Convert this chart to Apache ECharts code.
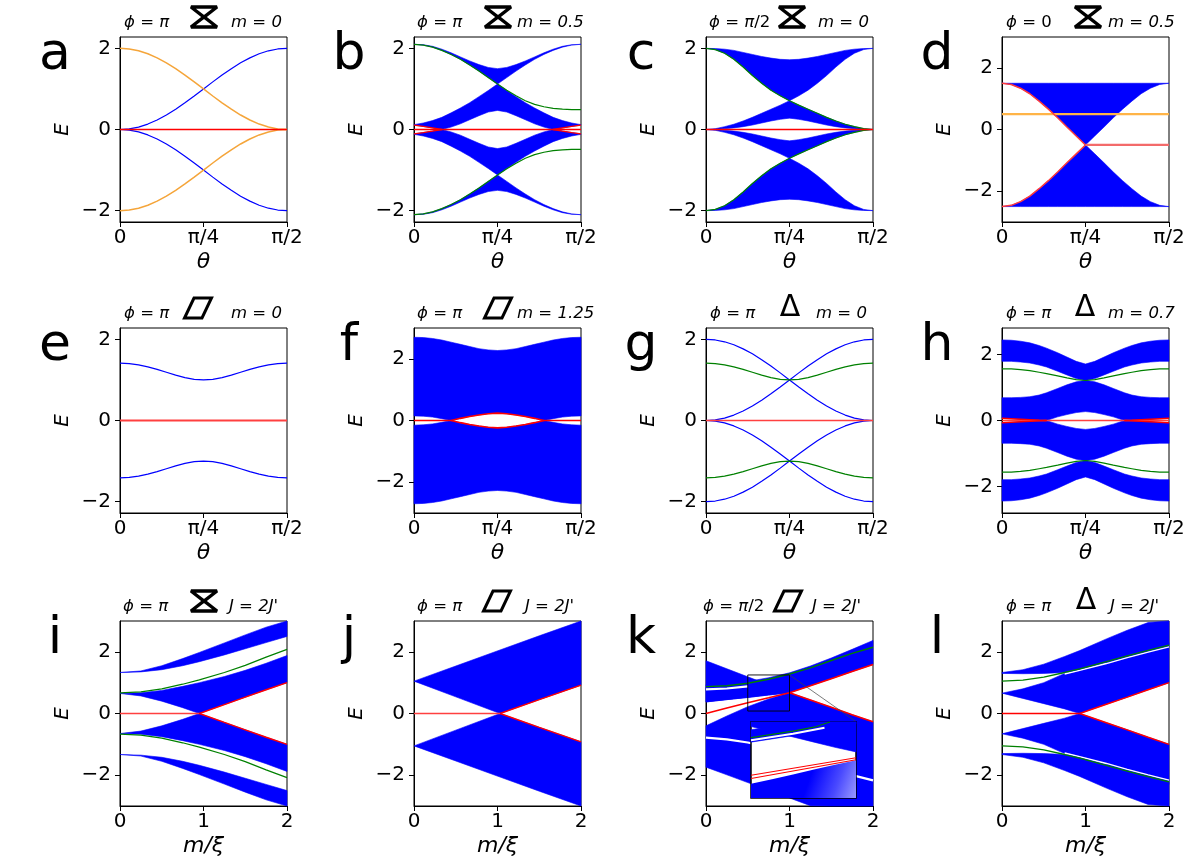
<!DOCTYPE html>
<html>
<head>
<meta charset="utf-8">
<script src="https://cdn.jsdelivr.net/npm/echarts@6/dist/echarts.min.js"></script>
<style>
html,body{margin:0;padding:0;background:#fff;}
#chart{width:1196px;height:864px;}
</style>
</head>
<body>
<div id="chart"></div>
<script>
// ---------- x sample grids ----------
const TH = [0,5,10,15,20,25,30,35,40,45,50,55,60,65,70,75,80,85,90];
const TH_ENDS = [0,90];
const TH_H = [0,5,10,15,20,24,30,35,40,45,50,55,60,66,70,75,80,85,90];
const MX = [0,0.25,0.5,0.75,1,1.25,1.5,1.75,2];
const MX_I = [0,0.25,0.5,0.75,0.95,1.25,1.5,1.75,2];
const MX_J = [0,0.5,1.03,1.5,2];
const MX_L = [0,0.25,0.5,0.75,0.93,1.25,1.5,1.75,2];
const ZERO_LINE = [0,0];

// ---------- tick labels ----------
const TH_TICKS = [0,45,90];
const TH_TICK_LABELS = ['0','π/4','π/2'];
const M_TICKS = [0,1,2];
const M_TICK_LABELS = ['0','1','2'];
const E_TICKS = [-2,0,2];
const E_TICK_LABELS = ['−2','0','2'];

// ---------- panel a ----------
const A_BLUE_UP = [0,0.015,0.06,0.134,0.234,0.357,0.5,0.658,0.826,1.0,1.174,1.342,1.5,1.643,1.766,1.866,1.94,1.985,2.0];
const A_BLUE_DN = [0,-0.015,-0.06,-0.134,-0.234,-0.357,-0.5,-0.658,-0.826,-1.0,-1.174,-1.342,-1.5,-1.643,-1.766,-1.866,-1.94,-1.985,-2.0];
const A_ORANGE_UP = [2.0,1.985,1.94,1.866,1.766,1.643,1.5,1.342,1.174,1.0,0.826,0.658,0.5,0.357,0.234,0.134,0.06,0.015,0];
const A_ORANGE_DN = [-2.0,-1.985,-1.94,-1.866,-1.766,-1.643,-1.5,-1.342,-1.174,-1.0,-0.826,-0.658,-0.5,-0.357,-0.234,-0.134,-0.06,-0.015,0];

// ---------- panel b ----------
const B_U1 = [2.10,2.09,2.05,1.98,1.89,1.79,1.69,1.60,1.53,1.50,1.53,1.60,1.69,1.79,1.89,1.98,2.05,2.09,2.10];
const B_L1 = [2.10,2.08,2.03,1.95,1.85,1.73,1.59,1.44,1.28,1.12,1.28,1.44,1.59,1.73,1.85,1.95,2.03,2.08,2.10];
const B_U2 = [0.12,0.16,0.22,0.30,0.41,0.53,0.66,0.81,0.96,1.12,0.96,0.81,0.66,0.53,0.41,0.30,0.22,0.16,0.12];
const B_L2 = [0.11,0.075,0.038,0,0.06,0.14,0.24,0.34,0.43,0.47,0.43,0.34,0.24,0.14,0.06,0,0.038,0.075,0.11];
const B_U1_N = [-2.10,-2.09,-2.05,-1.98,-1.89,-1.79,-1.69,-1.60,-1.53,-1.50,-1.53,-1.60,-1.69,-1.79,-1.89,-1.98,-2.05,-2.09,-2.10];
const B_L1_N = [-2.10,-2.08,-2.03,-1.95,-1.85,-1.73,-1.59,-1.44,-1.28,-1.12,-1.28,-1.44,-1.59,-1.73,-1.85,-1.95,-2.03,-2.08,-2.10];
const B_U2_N = [-0.12,-0.16,-0.22,-0.30,-0.41,-0.53,-0.66,-0.81,-0.96,-1.12,-0.96,-0.81,-0.66,-0.53,-0.41,-0.30,-0.22,-0.16,-0.12];
const B_L2_N = [-0.11,-0.075,-0.038,0,-0.06,-0.14,-0.24,-0.34,-0.43,-0.47,-0.43,-0.34,-0.24,-0.14,-0.06,0,-0.038,-0.075,-0.11];
const B_GREEN_UP = [2.10,2.08,2.03,1.95,1.85,1.73,1.59,1.44,1.28,1.12,0.97,0.83,0.71,0.62,0.56,0.52,0.50,0.49,0.49];
const B_GREEN_DN = [-2.10,-2.08,-2.03,-1.95,-1.85,-1.73,-1.59,-1.44,-1.28,-1.12,-0.97,-0.83,-0.71,-0.62,-0.56,-0.52,-0.50,-0.49,-0.49];
const B_RED_XL = [0,5,10,15];
const B_RED_XR = [75,80,85,90];
const B_RED_UL = [0.11,0.075,0.038,0];
const B_RED_UR = [0,0.038,0.075,0.11];
const B_RED_DL = [-0.11,-0.075,-0.038,0];
const B_RED_DR = [0,-0.038,-0.075,-0.11];

// ---------- panel c ----------
const C_U1 = [2.0,1.995,1.98,1.95,1.90,1.85,1.80,1.76,1.73,1.72,1.73,1.76,1.80,1.85,1.90,1.95,1.98,1.995,2.0];
const C_L1 = [2.0,1.97,1.88,1.73,1.54,1.33,1.14,0.97,0.83,0.71,0.83,0.97,1.14,1.33,1.54,1.73,1.88,1.97,2.0];
const C_U2 = [0,0.02,0.07,0.13,0.21,0.30,0.40,0.50,0.60,0.71,0.60,0.50,0.40,0.30,0.21,0.13,0.07,0.02,0];
const C_L2 = [0,0.005,0.02,0.04,0.07,0.11,0.16,0.21,0.25,0.28,0.25,0.21,0.16,0.11,0.07,0.04,0.02,0.005,0];
const C_U1_N = [-2.0,-1.995,-1.98,-1.95,-1.90,-1.85,-1.80,-1.76,-1.73,-1.72,-1.73,-1.76,-1.80,-1.85,-1.90,-1.95,-1.98,-1.995,-2.0];
const C_L1_N = [-2.0,-1.97,-1.88,-1.73,-1.54,-1.33,-1.14,-0.97,-0.83,-0.71,-0.83,-0.97,-1.14,-1.33,-1.54,-1.73,-1.88,-1.97,-2.0];
const C_U2_N = [0,-0.02,-0.07,-0.13,-0.21,-0.30,-0.40,-0.50,-0.60,-0.71,-0.60,-0.50,-0.40,-0.30,-0.21,-0.13,-0.07,-0.02,0];
const C_L2_N = [0,-0.005,-0.02,-0.04,-0.07,-0.11,-0.16,-0.21,-0.25,-0.28,-0.25,-0.21,-0.16,-0.11,-0.07,-0.04,-0.02,-0.005,0];
const C_GREEN_UP = [2.0,1.97,1.88,1.73,1.54,1.33,1.14,0.97,0.83,0.71,0.60,0.50,0.40,0.30,0.21,0.13,0.07,0.02,0];
const C_GREEN_DN = [-2.0,-1.97,-1.88,-1.73,-1.54,-1.33,-1.14,-0.97,-0.83,-0.71,-0.60,-0.50,-0.40,-0.30,-0.21,-0.13,-0.07,-0.02,0];

// ---------- panel d ----------
const D_UP_TOP = [1.5,1.5,1.5,1.5,1.5,1.5,1.5,1.5,1.5,1.5,1.5,1.5,1.5,1.5,1.5,1.5,1.5,1.5,1.5];
const D_UP_BOT = [1.5,1.46,1.34,1.16,0.92,0.66,0.38,0.08,-0.21,-0.5,-0.21,0.08,0.38,0.66,0.92,1.16,1.34,1.46,1.5];
const D_LO_TOP = [-2.5,-2.46,-2.34,-2.16,-1.92,-1.66,-1.38,-1.08,-0.79,-0.5,-0.79,-1.08,-1.38,-1.66,-1.92,-2.16,-2.34,-2.46,-2.5];
const D_LO_BOT = [-2.5,-2.5,-2.5,-2.5,-2.5,-2.5,-2.5,-2.5,-2.5,-2.5,-2.5,-2.5,-2.5,-2.5,-2.5,-2.5,-2.5,-2.5,-2.5];
const D_RED_X = [0,5,10,15,20,25,30,35,40,45];
const D_RED_U = [1.5,1.46,1.34,1.16,0.92,0.66,0.38,0.08,-0.21,-0.5];
const D_RED_L = [-2.5,-2.46,-2.34,-2.16,-1.92,-1.66,-1.38,-1.08,-0.79,-0.5];
const D_RED_FLAT_X = [45,90];
const D_RED_FLAT = [-0.5,-0.5];
const D_ORANGE = [0.5,0.5];

// ---------- panel e ----------
const E_BLUE_UP = [1.414,1.404,1.372,1.323,1.260,1.189,1.118,1.057,1.015,1.0,1.015,1.057,1.118,1.189,1.260,1.323,1.372,1.404,1.414];
const E_BLUE_DN = [-1.414,-1.404,-1.372,-1.323,-1.260,-1.189,-1.118,-1.057,-1.015,-1.0,-1.015,-1.057,-1.118,-1.189,-1.260,-1.323,-1.372,-1.404,-1.414];

// ---------- panel f ----------
const F_TOP = [2.70,2.69,2.66,2.61,2.54,2.47,2.40,2.33,2.29,2.27,2.29,2.33,2.40,2.47,2.54,2.61,2.66,2.69,2.70];
const F_GAP = [0.15,0.14,0.11,0.06,0,0.07,0.13,0.18,0.22,0.24,0.22,0.18,0.13,0.07,0,0.06,0.11,0.14,0.15];
const F_TOP_N = [-2.70,-2.69,-2.66,-2.61,-2.54,-2.47,-2.40,-2.33,-2.29,-2.27,-2.29,-2.33,-2.40,-2.47,-2.54,-2.61,-2.66,-2.69,-2.70];
const F_GAP_N = [-0.15,-0.14,-0.11,-0.06,0,-0.07,-0.13,-0.18,-0.22,-0.24,-0.22,-0.18,-0.13,-0.07,0,-0.06,-0.11,-0.14,-0.15];
const F_LENS_X = [20,25,30,35,40,45,50,55,60,65,70];
const F_LENS_U = [0,0.07,0.13,0.18,0.22,0.24,0.22,0.18,0.13,0.07,0];
const F_LENS_D = [0,-0.07,-0.13,-0.18,-0.22,-0.24,-0.22,-0.18,-0.13,-0.07,0];
const F_RED_XL = [0,20];
const F_RED_XR = [70,90];

// ---------- panel g ----------
const G_BLUE_1 = [0,0.015,0.06,0.134,0.234,0.357,0.5,0.658,0.826,1.0,1.174,1.342,1.5,1.643,1.766,1.866,1.94,1.985,2.0];
const G_BLUE_2 = [0,-0.015,-0.06,-0.134,-0.234,-0.357,-0.5,-0.658,-0.826,-1.0,-1.174,-1.342,-1.5,-1.643,-1.766,-1.866,-1.94,-1.985,-2.0];
const G_BLUE_3 = [2.0,1.985,1.94,1.866,1.766,1.643,1.5,1.342,1.174,1.0,0.826,0.658,0.5,0.357,0.234,0.134,0.06,0.015,0];
const G_BLUE_4 = [-2.0,-1.985,-1.94,-1.866,-1.766,-1.643,-1.5,-1.342,-1.174,-1.0,-0.826,-0.658,-0.5,-0.357,-0.234,-0.134,-0.06,-0.015,0];
const G_GREEN_UP = [1.414,1.404,1.372,1.323,1.260,1.189,1.118,1.057,1.015,1.0,1.015,1.057,1.118,1.189,1.260,1.323,1.372,1.404,1.414];
const G_GREEN_DN = [-1.414,-1.404,-1.372,-1.323,-1.260,-1.189,-1.118,-1.057,-1.015,-1.0,-1.015,-1.057,-1.118,-1.189,-1.260,-1.323,-1.372,-1.404,-1.414];

// ---------- panel h (x = TH_H) ----------
const H_T1 = [2.44,2.43,2.40,2.35,2.27,2.19,2.05,1.92,1.79,1.71,1.79,1.92,2.05,2.19,2.27,2.35,2.40,2.43,2.44];
const H_B1 = [1.79,1.79,1.77,1.74,1.68,1.62,1.49,1.38,1.27,1.21,1.27,1.38,1.49,1.62,1.68,1.74,1.77,1.79,1.79];
const H_T2 = [0.69,0.69,0.70,0.72,0.77,0.84,0.97,1.08,1.17,1.21,1.17,1.08,0.97,0.84,0.77,0.72,0.70,0.69,0.69];
const H_B2 = [0.07,0.055,0.04,0.025,0.01,0,0.11,0.18,0.24,0.27,0.24,0.18,0.11,0,0.01,0.025,0.04,0.055,0.07];
const H_T1_N = [-2.44,-2.43,-2.40,-2.35,-2.27,-2.19,-2.05,-1.92,-1.79,-1.71,-1.79,-1.92,-2.05,-2.19,-2.27,-2.35,-2.40,-2.43,-2.44];
const H_B1_N = [-1.79,-1.79,-1.77,-1.74,-1.68,-1.62,-1.49,-1.38,-1.27,-1.21,-1.27,-1.38,-1.49,-1.62,-1.68,-1.74,-1.77,-1.79,-1.79];
const H_T2_N = [-0.69,-0.69,-0.70,-0.72,-0.77,-0.84,-0.97,-1.08,-1.17,-1.21,-1.17,-1.08,-0.97,-0.84,-0.77,-0.72,-0.70,-0.69,-0.69];
const H_B2_N = [-0.07,-0.055,-0.04,-0.025,-0.01,0,-0.11,-0.18,-0.24,-0.27,-0.24,-0.18,-0.11,0,-0.01,-0.025,-0.04,-0.055,-0.07];
const H_GREEN_UP = [1.56,1.56,1.54,1.51,1.46,1.42,1.35,1.29,1.24,1.21,1.24,1.29,1.35,1.42,1.46,1.51,1.54,1.56,1.56];
const H_GREEN_DN = [-1.56,-1.56,-1.54,-1.51,-1.46,-1.42,-1.35,-1.29,-1.24,-1.21,-1.24,-1.29,-1.35,-1.42,-1.46,-1.51,-1.54,-1.56,-1.56];
const H_RED_XL = [0,5,10,15,20,24];
const H_RED_XR = [66,70,75,80,85,90];
const H_RED_UL = [0.07,0.055,0.04,0.025,0.01,0];
const H_RED_UR = [0,0.01,0.025,0.04,0.055,0.07];
const H_RED_DL = [-0.07,-0.055,-0.04,-0.025,-0.01,0];
const H_RED_DR = [0,-0.01,-0.025,-0.04,-0.055,-0.07];

// ---------- panel i (x = MX_I) ----------
const I_T1 = [1.33,1.38,1.55,1.78,1.98,2.29,2.55,2.80,3.05];
const I_B1 = [1.33,1.35,1.42,1.55,1.68,1.90,2.10,2.30,2.50];
const I_T2 = [0.65,0.67,0.75,0.88,1.00,1.20,1.40,1.63,1.88];
const I_B2 = [0.65,0.57,0.40,0.19,0,0.29,0.53,0.77,1.0];
const I_T1_N = [-1.33,-1.38,-1.55,-1.78,-1.98,-2.29,-2.55,-2.80,-3.05];
const I_B1_N = [-1.33,-1.35,-1.42,-1.55,-1.68,-1.90,-2.10,-2.30,-2.50];
const I_T2_N = [-0.65,-0.67,-0.75,-0.88,-1.00,-1.20,-1.40,-1.63,-1.88];
const I_B2_N = [-0.65,-0.57,-0.40,-0.19,0,-0.29,-0.53,-0.77,-1.0];
const I_GREEN_UP = [0.67,0.70,0.80,0.95,1.09,1.33,1.56,1.83,2.08];
const I_GREEN_DN = [-0.67,-0.70,-0.80,-0.95,-1.09,-1.33,-1.56,-1.83,-2.08];
const I_RED_X0 = [0,0.95];
const I_RED_VX = [0.95,1.25,1.5,1.75,2];
const I_RED_VU = [0,0.29,0.53,0.77,1.0];
const I_RED_VD = [0,-0.29,-0.53,-0.77,-1.0];

// ---------- panel j (x = MX_J) ----------
const J_T = [1.05,1.54,2.06,2.52,3.0];
const J_B = [1.05,0.54,0,0.45,0.92];
const J_T_N = [-1.05,-1.54,-2.06,-2.52,-3.0];
const J_B_N = [-1.05,-0.54,0,-0.45,-0.92];
const J_RED_X0 = [0,1.03];
const J_RED_VX = [1.03,1.5,2];
const J_RED_VU = [0,0.45,0.92];
const J_RED_VD = [0,-0.45,-0.92];

// ---------- panel k ----------
const K_A_X = [0,0.25,0.5,0.75,1];
const K_A_HI = [1.71,1.45,1.19,0.93,0.675];
const K_A_LO = [0.375,0.45,0.52,0.60,0.675];
const K_B_LO = [0.375,0.45,0.52,0.60,0.675,0.90,1.13,1.36,1.59];
const K_B_HI = [0.94,0.97,1.04,1.16,1.32,1.54,1.80,2.08,2.37];
const K_C_HI = [-0.40,-0.08,0.22,0.47,0.675,0.44,0.20,-0.04,-0.27];
const K_C_LO = [-1.74,-1.99,-2.24,-2.49,-2.74,-2.99,-3.24,-3.49,-3.74];
const K_GREEN = [0.87,0.90,0.98,1.11,1.28,1.48,1.72,1.95,2.15];
const K_WHITE1_X = [0,0.25,0.5];
const K_WHITE1 = [0.78,0.81,0.88];
const K_WHITE2 = [-0.78,-0.84,-0.94,-1.1,-1.28,-1.5,-1.75,-2.0,-2.17];
const K_RED1 = [0,0.18,0.35,0.51,0.675,0.90,1.13,1.36,1.59];
const K_RED2_X = [1,1.25,1.5,1.75,2];
const K_RED2 = [0.675,0.44,0.20,-0.04,-0.27];
const K_BOX_X = [0.5,1.0,1.0,0.5,0.5];
const K_BOX_Y = [0.08,0.08,1.25,1.25,0.08];
const K_LINK_X = [1.0,1.80];
const K_LINK_Y = [1.25,-0.27];
// inset of k (x 0.5..1.0, E 0.08..1.25)
const KI_X = [0.5,0.6,0.7,0.8,0.9,1.0];
const KI_RISE_LO = [0.94,0.99,1.04,1.10,1.16,1.22];
const KI_RISE_HI = [1.13,1.18,1.23,1.25,1.25,1.25];
const KI_DESC_LO = [1.18,1.10,1.02,0.94,0.86,0.79];
const KI_DESC_HI = [1.25,1.25,1.25,1.25,1.25,1.25];
const KI_LOW_HI = [0.30,0.37,0.44,0.52,0.59,0.66];
const KI_LOW_LO = [0.08,0.08,0.08,0.08,0.08,0.08];
const KI_GREEN_X = [0.5,0.6,0.7,0.8,0.876];
const KI_GREEN = [1.01,1.06,1.11,1.17,1.25];
const KI_WHITE_X = [0.5,0.6,0.7,0.8,0.85];
const KI_WHITE = [0.97,1.02,1.07,1.13,1.16];
const KI_RED_X = [0.5,1.0];
const KI_RED1 = [0.43,0.70];
const KI_RED2 = [0.38,0.67];

// ---------- panel l (x = MX_L) ----------
const L_T1 = [1.33,1.42,1.60,1.85,2.04,2.42,2.70,2.95,3.20];
const L_B1 = [1.30,1.29,1.30,1.33,1.45,1.68,1.87,2.05,2.22];
const L_T2 = [0.66,0.80,1.00,1.30,1.50,1.75,1.95,2.12,2.30];
const L_B2 = [0.66,0.49,0.32,0.15,0,0.30,0.53,0.77,1.0];
const L_T1_N = [-1.33,-1.42,-1.60,-1.85,-2.04,-2.42,-2.70,-2.95,-3.20];
const L_B1_N = [-1.30,-1.29,-1.30,-1.33,-1.45,-1.68,-1.87,-2.05,-2.22];
const L_T2_N = [-0.66,-0.80,-1.00,-1.30,-1.50,-1.75,-1.95,-2.12,-2.30];
const L_B2_N = [-0.66,-0.49,-0.32,-0.15,0,-0.30,-0.53,-0.77,-1.0];
const L_GREEN_UP = [1.05,1.08,1.18,1.33,1.45,1.68,1.87,2.05,2.22];
const L_GREEN_DN = [-1.05,-1.08,-1.18,-1.33,-1.45,-1.68,-1.87,-2.05,-2.22];
const L_WG_X = [0.75,0.93,1.25,1.5,1.75,2];
const L_WG_U = [1.28,1.40,1.62,1.81,1.99,2.16];
const L_WG_D = [-1.28,-1.40,-1.62,-1.81,-1.99,-2.16];
const L_RED_X0 = [0,0.93];
const L_RED_VX = [0.93,1.25,1.5,1.75,2];
const L_RED_VU = [0,0.30,0.53,0.77,1.0];
const L_RED_VD = [0,-0.30,-0.53,-0.77,-1.0];

// ---------- styling ----------
const BLUE = '#0000ff', GREEN = '#008000', RED = '#ff0000', ORANGE = '#f5a53a', WHITE = '#ffffff';
const FONT = 'DejaVu Sans';
const COL_X = [120, 414, 706, 1002];
const ROW_Y = [37, 328, 621];
const GW = 167, GH = 185;
const TITLE_SIZE = 16.5;

const band = (x, lo, hi, fill) => ({x, lo, hi, fill: fill || BLUE});
const ln = (x, y, c, w, z) => ({x, y, c, w: w || 1.2, z: z || 3});

const PANELS = [
  {L:'a', col:0,row:0, y:[-2.28,2.28], kind:'th', phi:'{i|ϕ} = {i|π}', par:'m = 0', icon:'hour', phiOff:4, parOff:111, iconOff:84,
   bands:[], lines:[ln(TH,A_BLUE_UP,BLUE), ln(TH,A_BLUE_DN,BLUE), ln(TH,A_ORANGE_UP,ORANGE,1.5), ln(TH,A_ORANGE_DN,ORANGE,1.5), ln(TH_ENDS,ZERO_LINE,RED,1.3,4)]},
  {L:'b', col:1,row:0, y:[-2.28,2.28], kind:'th', phi:'{i|ϕ} = {i|π}', par:'m = 0.5', icon:'hour', phiOff:3, parOff:103, iconOff:84,
   bands:[band(TH,B_L1,B_U1), band(TH,B_L2,B_U2), band(TH,B_U2_N,B_L2_N), band(TH,B_U1_N,B_L1_N)],
   lines:[ln(TH,B_GREEN_UP,GREEN), ln(TH,B_GREEN_DN,GREEN), ln(TH_ENDS,ZERO_LINE,RED,1.3,4),
          ln(B_RED_XL,B_RED_UL,RED,1.3,4), ln(B_RED_XL,B_RED_DL,RED,1.3,4), ln(B_RED_XR,B_RED_UR,RED,1.3,4), ln(B_RED_XR,B_RED_DR,RED,1.3,4)]},
  {L:'c', col:2,row:0, y:[-2.28,2.28], kind:'th', phi:'{i|ϕ} = {i|π}/2', par:'m = 0', icon:'hour', phiOff:3, parOff:112, iconOff:86,
   bands:[band(TH,C_L1,C_U1), band(TH,C_L2,C_U2), band(TH,C_U2_N,C_L2_N), band(TH,C_U1_N,C_L1_N)],
   lines:[ln(TH,C_GREEN_UP,GREEN), ln(TH,C_GREEN_DN,GREEN), ln(TH_ENDS,ZERO_LINE,RED,1.3,4)]},
  {L:'d', col:3,row:0, y:[-3,3], kind:'th', phi:'{i|ϕ} = 0', par:'m = 0.5', icon:'hour', phiOff:4, parOff:106, iconOff:86,
   bands:[band(TH,D_UP_BOT,D_UP_TOP), band(TH,D_LO_BOT,D_LO_TOP)],
   lines:[ln(TH_ENDS,D_ORANGE,'#ffb447',2.4), ln(D_RED_X,D_RED_U,'#ff3b3b',1.5,4), ln(D_RED_X,D_RED_L,'#ff3b3b',1.5,4), ln(D_RED_FLAT_X,D_RED_FLAT,'#f36a6a',2.4,4)]},
  {L:'e', col:0,row:1, y:[-2.28,2.28], kind:'th', phi:'{i|ϕ} = {i|π}', par:'m = 0', icon:'para', phiOff:4, parOff:111, iconOff:78,
   bands:[], lines:[ln(TH,E_BLUE_UP,BLUE), ln(TH,E_BLUE_DN,BLUE), ln(TH_ENDS,ZERO_LINE,'#ff4040',1.8,4)]},
  {L:'f', col:1,row:1, y:[-3,3], kind:'th', phi:'{i|ϕ} = {i|π}', par:'m = 1.25', icon:'para', phiOff:3, parOff:103, iconOff:84,
   bands:[band(TH,F_GAP,F_TOP), band(TH,F_TOP_N,F_GAP_N)],
   lines:[ln(F_RED_XL,ZERO_LINE,RED,1.4,4), ln(F_RED_XR,ZERO_LINE,RED,1.4,4), ln(F_LENS_X,F_LENS_U,RED,1.6,4), ln(F_LENS_X,F_LENS_D,RED,1.6,4)]},
  {L:'g', col:2,row:1, y:[-2.28,2.28], kind:'th', phi:'{i|ϕ} = {i|π}', par:'m = 0', icon:'tri', phiOff:4, parOff:110, iconOff:84,
   bands:[], lines:[ln(TH,G_BLUE_1,BLUE), ln(TH,G_BLUE_2,BLUE), ln(TH,G_BLUE_3,BLUE), ln(TH,G_BLUE_4,BLUE),
          ln(TH,G_GREEN_UP,GREEN), ln(TH,G_GREEN_DN,GREEN), ln(TH_ENDS,ZERO_LINE,'#ff4040',1.6,4)]},
  {L:'h', col:3,row:1, y:[-2.8,2.8], kind:'th', phi:'{i|ϕ} = {i|π}', par:'m = 0.7', icon:'tri', phiOff:4, parOff:106, iconOff:83,
   bands:[band(TH_H,H_B1,H_T1), band(TH_H,H_B2,H_T2), band(TH_H,H_T2_N,H_B2_N), band(TH_H,H_T1_N,H_B1_N)],
   lines:[ln(TH_H,H_GREEN_UP,GREEN), ln(TH_H,H_GREEN_DN,GREEN), ln(TH_ENDS,ZERO_LINE,'#ff4040',1.4,4),
          ln(H_RED_XL,H_RED_UL,RED,1.4,4), ln(H_RED_XL,H_RED_DL,RED,1.4,4), ln(H_RED_XR,H_RED_UR,RED,1.4,4), ln(H_RED_XR,H_RED_DR,RED,1.4,4)]},
  {L:'i', col:0,row:2, y:[-3,3], kind:'m', phi:'{i|ϕ} = {i|π}', par:"J = 2J'", icon:'hour', phiOff:3, parOff:109, iconOff:84,
   bands:[band(MX_I,I_B1,I_T1), band(MX_I,I_B2,I_T2), band(MX_I,I_T2_N,I_B2_N), band(MX_I,I_T1_N,I_B1_N)],
   lines:[ln(MX_I,I_GREEN_UP,GREEN), ln(MX_I,I_GREEN_DN,GREEN), ln(I_RED_X0,ZERO_LINE,'#ff4040',1.6,4),
          ln(I_RED_VX,I_RED_VU,RED,1.4,4), ln(I_RED_VX,I_RED_VD,RED,1.4,4)]},
  {L:'j', col:1,row:2, y:[-3,3], kind:'m', phi:'{i|ϕ} = {i|π}', par:"J = 2J'", icon:'para', phiOff:3, parOff:111, iconOff:83,
   bands:[band(MX_J,J_B,J_T), band(MX_J,J_T_N,J_B_N)],
   lines:[ln(J_RED_X0,ZERO_LINE,'#ff4040',1.6,4), ln(J_RED_VX,J_RED_VU,RED,1.4,4), ln(J_RED_VX,J_RED_VD,RED,1.4,4)]},
  {L:'k', col:2,row:2, y:[-3,3], kind:'m', phi:'{i|ϕ} = {i|π}/2', par:"J = 2J'", icon:'para', phiOff:-3, parOff:106, iconOff:82,
   bands:[band(MX,K_C_LO,K_C_HI), band(K_A_X,K_A_LO,K_A_HI), band(MX,K_B_LO,K_B_HI)],
   lines:[ln(K_WHITE1_X,K_WHITE1,WHITE,2.2), ln(MX,K_WHITE2,WHITE,2.2), ln(MX,K_GREEN,GREEN,1.4),
          ln(MX,K_RED1,RED,1.6,4), ln(K_RED2_X,K_RED2,RED,1.6,4),
          ln(K_BOX_X,K_BOX_Y,'#000',0.9,6), ln(K_LINK_X,K_LINK_Y,'#444',0.7,6)]},
  {L:'l', col:3,row:2, y:[-3,3], kind:'m', phi:'{i|ϕ} = {i|π}', par:"J = 2J'", icon:'tri', phiOff:4, parOff:108, iconOff:84,
   bands:[band(MX_L,L_B1,L_T1), band(MX_L,L_B2,L_T2), band(MX_L,L_T2_N,L_B2_N), band(MX_L,L_T1_N,L_B1_N)],
   lines:[ln(L_WG_X,L_WG_U,WHITE,1.4), ln(L_WG_X,L_WG_D,WHITE,1.4), ln(MX_L,L_GREEN_UP,GREEN,1.3), ln(MX_L,L_GREEN_DN,GREEN,1.3),
          ln(L_RED_X0,ZERO_LINE,RED,1.4,4), ln(L_RED_VX,L_RED_VU,RED,1.4,4), ln(L_RED_VX,L_RED_VD,RED,1.4,4)]}
];

const INSET = {grid:{left:751, top:722, width:105, height:76}, x:[0.5,1.0], y:[0.08,1.25],
  bands:[band(KI_X,KI_DESC_LO,KI_DESC_HI), band(KI_X,KI_RISE_LO,KI_RISE_HI), band(KI_X,KI_LOW_LO,KI_LOW_HI,'lowgrad')],
  lines:[ln(KI_WHITE_X,KI_WHITE,WHITE,2), ln(KI_GREEN_X,KI_GREEN,GREEN,1.2), ln(KI_RED_X,KI_RED1,RED,1.1), ln(KI_RED_X,KI_RED2,RED,1.1)]};

// ---------- builders ----------
function bandSeries(gi, b, yr, z) {
  const data = b.x.map((x, k) => [x, b.lo[k], b.hi[k]]);
  let fill = b.fill;
  if (fill === 'lowgrad') {
    fill = new echarts.graphic.LinearGradient(0, 0, 1, 1, [
      {offset:0, color:'#0000ff'}, {offset:0.55, color:'#0000ff'}, {offset:0.8, color:'#4a4aff'}, {offset:1, color:'#9a9aff'}]);
  }
  return {
    type:'custom', xAxisIndex:gi, yAxisIndex:gi, z: z || 2, silent:true, animation:false,
    data, encode:{x:0, y:[1,2]},
    renderItem(params, api) {
      if (params.dataIndex !== 0) return null;
      const cl = v => Math.max(yr[0], Math.min(yr[1], v));
      const pts = [];
      for (let k = 0; k < data.length; k++) pts.push(api.coord([data[k][0], cl(data[k][2])]));
      for (let k = data.length - 1; k >= 0; k--) pts.push(api.coord([data[k][0], cl(data[k][1])]));
      return {type:'polygon', shape:{points:pts}, style:{fill:fill, stroke: typeof fill === 'string' ? fill : '#0000ff', lineWidth: typeof fill === 'string' ? 0.6 : 0}};
    }
  };
}
function lineSeries(gi, l, zAdd) {
  return {
    type:'line', xAxisIndex:gi, yAxisIndex:gi, z:(l.z || 3) + (zAdd || 0), silent:true, animation:false,
    data: l.x.map((x, k) => [x, l.y[k]]), showSymbol:false, symbol:'none', smooth:false, clip:true,
    lineStyle:{color:l.c, width:l.w}
  };
}

const grids = [], xAxes = [], yAxes = [], series = [], graphics = [];
PANELS.forEach((p, gi) => {
  const left = COL_X[p.col], top = ROW_Y[p.row];
  grids.push({left, top, width:GW, height:GH, show:true, borderColor:'#000', borderWidth:1,
              backgroundColor:'rgba(0,0,0,0)', containLabel:false, outerBoundsMode:'none'});
  const th = p.kind === 'th';
  const xt = th ? TH_TICKS : M_TICKS, xl = th ? TH_TICK_LABELS : M_TICK_LABELS;
  xAxes.push({
    gridIndex:gi, type:'value', min:xt[0], max:xt[2],
    axisLine:{show:true, onZero:false, lineStyle:{color:'#000', width:1}},
    axisTick:{show:true, customValues:xt, length:5, lineStyle:{color:'#000', width:1}},
    axisLabel:{show:true, customValues:xt, margin:6, fontSize:20, color:'#000', fontFamily:FONT,
               formatter:v => xl[xt.findIndex(t => Math.abs(t - v) < 1e-6)]},
    splitLine:{show:false},
    name: th ? 'θ' : 'm/ξ', nameLocation:'middle', nameGap:29,
    nameTextStyle:{fontSize:22, fontStyle:'italic', fontFamily:FONT, color:'#000'}
  });
  yAxes.push({
    gridIndex:gi, type:'value', min:p.y[0], max:p.y[1],
    axisLine:{show:true, onZero:false, lineStyle:{color:'#000', width:1}},
    axisTick:{show:true, customValues:E_TICKS, length:5, lineStyle:{color:'#000', width:1}},
    axisLabel:{show:true, customValues:E_TICKS, margin:9, fontSize:20, color:'#000', fontFamily:FONT,
               formatter:v => E_TICK_LABELS[E_TICKS.findIndex(t => Math.abs(t - v) < 1e-6)]},
    splitLine:{show:false},
    name:'E', nameLocation:'middle', nameGap:47, nameRotate:90,
    nameTextStyle:{fontSize:20, fontStyle:'italic', fontFamily:FONT, color:'#000'}
  });
  p.bands.forEach(b => series.push(bandSeries(gi, b, p.y)));
  p.lines.forEach(l => series.push(lineSeries(gi, l)));

  // panel letter
  graphics.push({type:'text', x:left - 65, y:top + 18, silent:true,
    style:{text:p.L, fontSize:52, fontFamily:FONT, fill:'#000', align:'center', verticalAlign:'middle'}});
  // title parts
  graphics.push({type:'text', x:left + p.phiOff, y:top - 14, silent:true,
    style:{text:p.phi, fontSize:TITLE_SIZE, fontFamily:FONT, fill:'#000', align:'left', verticalAlign:'middle',
           rich:{i:{fontStyle:'italic', fontSize:TITLE_SIZE, fontFamily:FONT, fill:'#000'}}}});
  graphics.push({type:'text', x:left + p.parOff, y:top - 14, silent:true,
    style:{text:p.par, fontSize:TITLE_SIZE, fontStyle:'italic', fontFamily:FONT, fill:'#000', align:'left', verticalAlign:'middle'}});
  // icon
  const cx = left + p.iconOff, cy = top - 20;
  if (p.icon === 'hour') {
    graphics.push({type:'group', x:cx, y:cy, silent:true, children:[
      {type:'polygon', shape:{points:[[-13,-10],[13,-10],[0,0]]}, style:{fill:'none', stroke:'#000', lineWidth:3.4, lineJoin:'miter', miterLimit:3}},
      {type:'polygon', shape:{points:[[-13,10],[13,10],[0,0]]}, style:{fill:'none', stroke:'#000', lineWidth:3.4, lineJoin:'miter', miterLimit:3}}
    ]});
  } else if (p.icon === 'para') {
    graphics.push({type:'polygon', x:cx, y:cy, silent:true,
      shape:{points:[[-4,-10],[13.5,-10],[4,10],[-13.5,10]]},
      style:{fill:'none', stroke:'#000', lineWidth:3, lineJoin:'miter', miterLimit:3}});
  } else {
    graphics.push({type:'text', x:cx, y:cy, silent:true,
      style:{text:'Δ', fontSize:30, fontFamily:FONT, fill:'#000', align:'center', verticalAlign:'middle'}});
  }
});

// inset of panel k
const gi = PANELS.length;
grids.push(Object.assign({show:true, borderColor:'#000', borderWidth:1.5, backgroundColor:'#ffffff', z:10, containLabel:false, outerBoundsMode:'none'}, INSET.grid));
xAxes.push({gridIndex:gi, type:'value', min:INSET.x[0], max:INSET.x[1], show:false, splitLine:{show:false}});
yAxes.push({gridIndex:gi, type:'value', min:INSET.y[0], max:INSET.y[1], show:false, splitLine:{show:false}});
INSET.bands.forEach(b => series.push(bandSeries(gi, b, INSET.y, 11)));
INSET.lines.forEach(l => series.push(lineSeries(gi, l, 9)));

const chart = echarts.init(document.getElementById('chart'), null, {renderer:'canvas'});
chart.setOption({
  animation:false,
  backgroundColor:'#ffffff',
  textStyle:{fontFamily:FONT},
  grid:grids, xAxis:xAxes, yAxis:yAxes, series, graphic:graphics
});
</script>
</body>
</html>
